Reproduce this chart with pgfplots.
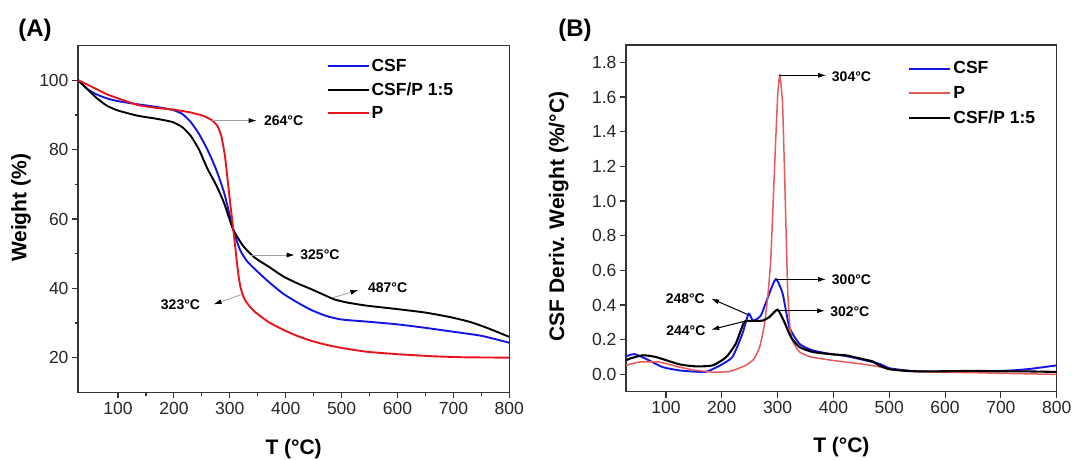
\documentclass[border=0pt]{standalone}
\usepackage{fontspec}
\setmainfont{Liberation Sans}
\usepackage{pgfplots}
\pgfplotsset{compat=1.18}
\usetikzlibrary{arrows.meta}
\definecolor{cred}{HTML}{E8141B}
\definecolor{cblue}{HTML}{1414E6}
\definecolor{cred2}{HTML}{E85A5A}
\definecolor{axgray}{HTML}{333333}
\tikzset{ann/.style={font=\bfseries\fontsize{14}{16}\selectfont}}
\pgfplotsset{
  common/.style={
    scale only axis,
    anchor=south west,
    axis line style={axgray, line width=1.3pt},
    tick pos=left,
    tick align=outside,
    major tick length=6pt,
    minor tick length=3.5pt,
    every tick/.style={axgray, line width=1.1pt},
    /pgf/number format/assume math mode=true,
    tick label style={font=\fontsize{17.5}{20}\selectfont, text=black!85},
    label style={font=\bfseries\fontsize{21}{24}\selectfont},
    legend cell align=left,
    legend image code/.code={\draw[##1] (0pt,0pt) -- (41pt,0pt);},
    xmin=28.4, xmax=800,
    xtick={100,200,...,800},
  },
}
\begin{document}
\begin{tikzpicture}
\useasboundingbox (0,0) rectangle (1073pt,459pt);
\node[font=\bfseries\fontsize{24}{28}\selectfont] at (35pt,429pt) {(A)};
\node[font=\bfseries\fontsize{24}{28}\selectfont] at (575pt,429pt) {(B)};
% ---------------- Panel A ----------------
\begin{axis}[common,
  at={(78pt,66.7pt)}, width=431.3pt, height=346.6pt,
  ymin=10, ymax=110,
  ytick={20,40,...,100},
  minor x tick num=1, minor y tick num=1,
  xlabel={T (°C)}, ylabel={Weight (\%)},
  x label style={at={(axis description cs:0.5,-0.1636)}, anchor=center},
  y label style={at={(axis description cs:-0.132,0.532)}, anchor=center},
  legend style={draw=none, fill=none, at={(0.576,0.968)}, anchor=north west,
    font=\bfseries\fontsize{17.5}{20}\selectfont, row sep=5.8pt, inner sep=0pt,
    nodes={inner sep=2pt}},
]
\addplot[cblue, line width=1.9pt, smooth, tension=0.35] coordinates {
(29,100)(45,97.5)(61,96)(80,94.8)(100,94)(135,93.1)(166,92.4)(197,91.5)(215,90.3)(230,88)(245,84.5)(260,80)(275,74.5)(290,67.5)(306,57)(318,51.2)(330,48)(345,45.5)(370,41.8)(395,38.5)(420,36)(445,33.8)(473,32)(500,31)(545,30.4)(600,29.6)(650,28.6)(694,27.6)(750,26.3)(800,24.3)};
\addlegendentry{CSF}
\addplot[black, line width=1.9pt, smooth, tension=0.35] coordinates {
(29,100)(45,97.5)(61,95)(80,92.7)(100,91.3)(135,89.8)(166,89)(197,88)(215,86.5)(230,84)(245,80)(260,74.5)(275,70)(290,64.5)(306,57)(324,52.2)(345,48.8)(370,46.2)(395,43.5)(420,41.5)(445,39.8)(470,38)(487,36.8)(510,35.9)(545,35)(600,34)(650,33)(694,31.7)(730,30.3)(760,28.6)(800,26)};
\addlegendentry{CSF/P 1:5}
\addplot[cred, line width=1.9pt, smooth, tension=0.3] coordinates {
(29,100)(45,98.8)(61,97.5)(80,96)(100,94.8)(135,92.9)(166,92.1)(197,91.6)(228,90.8)(252,89.8)(268,88.5)(278,86.8)(285,83.8)(291,78.5)(296,71.5)(300,65.5)(304,60)(308,54.5)(312,48.5)(316,43.2)(319,40.4)(323,38.2)(328,36.4)(336,34.7)(345,33.2)(357,31.7)(370,30.2)(385,28.9)(400,27.7)(420,26.3)(445,24.9)(470,23.8)(500,22.8)(545,21.7)(600,21)(664,20.4)(720,20.1)(800,20)};
\addlegendentry{P}
\draw[gray!75, line width=0.8pt, -{Latex[length=8pt,width=5pt,color=black]}] (axis cs:267.6,88.4) -- (axis cs:348,88.4);
\node[ann, anchor=west] at (axis cs:355,88.4) {264°C};
\draw[gray!75, line width=0.8pt, -{Latex[length=8pt,width=5pt,color=black]}] (axis cs:337,49.6) -- (axis cs:416,49.6);
\node[ann, anchor=west] at (axis cs:420,49.8) {325°C};
\draw[gray!75, line width=0.8pt, -{Latex[length=8pt,width=5pt,color=black]}] (axis cs:485,37.3) -- (axis cs:530,39.5);
\node[ann, anchor=west] at (axis cs:541,40.2) {487°C};
\draw[gray!75, line width=0.8pt, -{Latex[length=8pt,width=5pt,color=black]}] (axis cs:321,38.2) -- (axis cs:271,35.4);
\node[ann, anchor=east] at (axis cs:253,35.4) {323°C};
\end{axis}
% ---------------- Panel B ----------------
\begin{axis}[common,
  at={(626pt,67.3pt)}, width=430.7pt, height=346.7pt,
  ymin=-0.1, ymax=1.9,
  ytick={0,0.2,...,1.8},
  yticklabel style={/pgf/number format/.cd, fixed, fixed zerofill, precision=1},
  xlabel={T (°C)}, ylabel={CSF Deriv. Weight (\%/°C)},
  x label style={at={(axis description cs:0.5,-0.159)}, anchor=center},
  y label style={at={(axis description cs:-0.156,0.505)}, anchor=center},
  legend style={draw=none, fill=none, at={(0.655,0.958)}, anchor=north west,
    font=\bfseries\fontsize{17.5}{20}\selectfont, row sep=6.8pt, inner sep=0pt,
    nodes={inner sep=2pt}},
]
\addplot[cblue, line width=1.9pt, smooth, tension=0.35] coordinates {
(28.5,0.104)(43,0.117)(64,0.09)(94,0.042)(124,0.023)(150,0.016)(172,0.015)(196,0.05)(219,0.1)(237,0.235)(248,0.35)(256,0.31)(270,0.34)(285,0.466)(297,0.55)(309,0.466)(321,0.273)(339,0.177)(361,0.14)(392,0.119)(422,0.106)(452,0.085)(483,0.06)(501,0.035)(544,0.019)(605,0.015)(661,0.015)(721,0.023)(756,0.033)(800,0.052)};
\addlegendentry{CSF}
\addplot[cred2, line width=1.5pt, smooth, tension=0.3] coordinates {
(28.5,0.052)(52,0.071)(88,0.071)(124,0.042)(150,0.025)(184,0.013)(214,0.017)(243,0.052)(258,0.09)(268,0.16)(276,0.28)(283,0.47)(288,0.68)(294,1.15)(300,1.6)(304,1.725)(309,1.55)(314,0.97)(318,0.49)(322,0.28)(327,0.19)(339,0.13)(360,0.1)(400,0.08)(450,0.06)(480,0.045)(500,0.03)(550,0.015)(600,0.012)(650,0.01)(700,0.006)(750,0.003)(800,0.0)};
\addlegendentry{P}
\addplot[black, line width=2.1pt, smooth, tension=0.35] coordinates {
(28.5,0.081)(34.5,0.09)(58,0.11)(82,0.1)(124,0.058)(154,0.046)(184,0.052)(208,0.1)(225,0.177)(240,0.302)(249,0.308)(273,0.31)(285,0.33)(300,0.373)(312,0.302)(324,0.215)(339,0.158)(363,0.129)(400,0.115)(422,0.11)(450,0.09)(470,0.075)(482,0.052)(500,0.03)(530,0.02)(560,0.017)(600,0.018)(650,0.02)(700,0.018)(750,0.017)(800,0.014)};
\addlegendentry{CSF/P 1:5}
\draw[black, line width=1pt, -{Latex[length=8pt,width=5pt]}] (axis cs:303,1.725) -- (axis cs:387,1.725);
\node[ann, anchor=west] at (axis cs:391,1.72) {304°C};
\draw[black, line width=1pt, -{Latex[length=8pt,width=5pt]}] (axis cs:297,0.548) -- (axis cs:387,0.548);
\node[ann, anchor=west] at (axis cs:391,0.548) {300°C};
\draw[black, line width=1pt, -{Latex[length=8pt,width=5pt]}] (axis cs:301,0.367) -- (axis cs:385,0.367);
\node[ann, anchor=west] at (axis cs:388,0.36) {302°C};
\draw[black, line width=1pt, -{Latex[length=8pt,width=5pt]}] (axis cs:246,0.346) -- (axis cs:181,0.437);
\node[ann, anchor=east] at (axis cs:176,0.437) {248°C};
\draw[black, line width=1pt, -{Latex[length=8pt,width=5pt]}] (axis cs:243,0.308) -- (axis cs:181,0.258);
\node[ann, anchor=east] at (axis cs:177,0.254) {244°C};
\end{axis}
\end{tikzpicture}
\end{document}
